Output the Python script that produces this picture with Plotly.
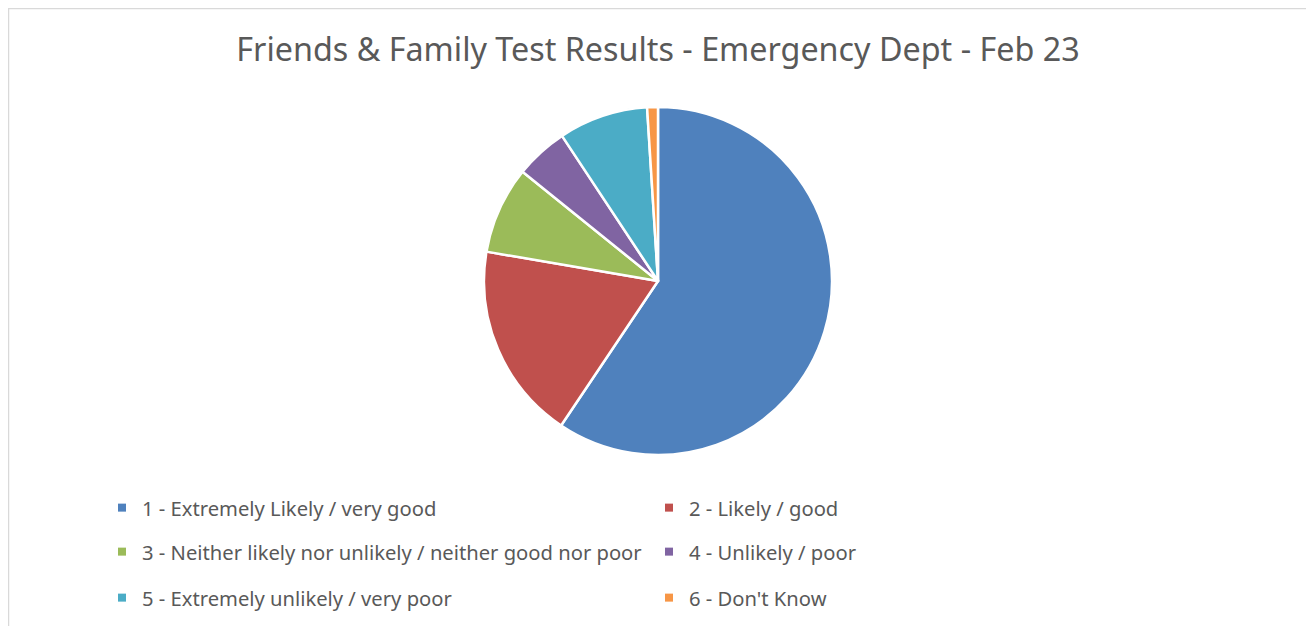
import plotly.graph_objects as go

title = "Friends &amp; Family Test Results - Emergency Dept - Feb 23"
labels = [
    "1 - Extremely Likely / very good",
    "2 - Likely / good",
    "3 - Neither likely nor unlikely / neither good nor poor",
    "4 - Unlikely / poor",
    "5 - Extremely unlikely / very poor",
    "6 - Don't Know",
]
values = [59.4, 18.3, 8.1, 4.9, 8.3, 1.0]
colors = ["#4F81BD", "#C0504D", "#9BBB59", "#8064A2", "#4BACC6", "#F79646"]

W, H = 1314, 626
off = 8  # page body margin
cx, cy, r = 658 - off, 281 - off, 174

fig = go.Figure()
fig.add_trace(go.Pie(
    labels=labels, values=values, sort=False, direction="clockwise", rotation=0,
    marker=dict(colors=colors, line=dict(color="white", width=2.5)),
    textinfo="none", hoverinfo="label+value", showlegend=False,
    domain=dict(x=[(cx - r) / W, (cx + r) / W], y=[(H - cy - r) / H, (H - cy + r) / H]),
))

legend_names = ["legend", "legend2", "legend3"]
for i, (lab, col) in enumerate(zip(labels, colors)):
    fig.add_trace(go.Scatter(
        x=[None], y=[None], mode="markers", name=lab,
        marker=dict(symbol="square", size=8, color=col),
        legend=legend_names[i // 2], showlegend=True,
    ))

row_y = [508 - off, 552 - off, 598 - off]
leg_font = dict(family="Noto Sans, sans-serif", size=20.2, color="#595959")
legs = {}
for name, ry in zip(legend_names, row_y):
    legs[name] = dict(
        orientation="h", x=(102 - off) / W, xanchor="left", y=1 - ry / H, yanchor="middle",
        entrywidth=502, entrywidthmode="pixels", font=leg_font,
        bgcolor="rgba(0,0,0,0)", itemclick=False, itemdoubleclick=False,
    )

fig.update_layout(
    width=W, height=H,
    margin=dict(l=0, r=0, t=0, b=0),
    paper_bgcolor="white", plot_bgcolor="white",
    title=dict(text=title, x=cx / W, xanchor="center", y=1 - (50 - off) / H, yanchor="middle",
               font=dict(family="Noto Sans, sans-serif", size=32.3, color="#595959")),
    xaxis=dict(visible=False), yaxis=dict(visible=False),
    shapes=[dict(type="rect", xref="paper", yref="paper",
                 x0=0.5 / W, x1=(1309 - off) / W, y0=-0.1, y1=1 - 0.5 / H,
                 line=dict(color="#D9D9D9", width=1.5), fillcolor="rgba(0,0,0,0)", layer="below")],
    **legs,
)

fig.write_html("out.html")
